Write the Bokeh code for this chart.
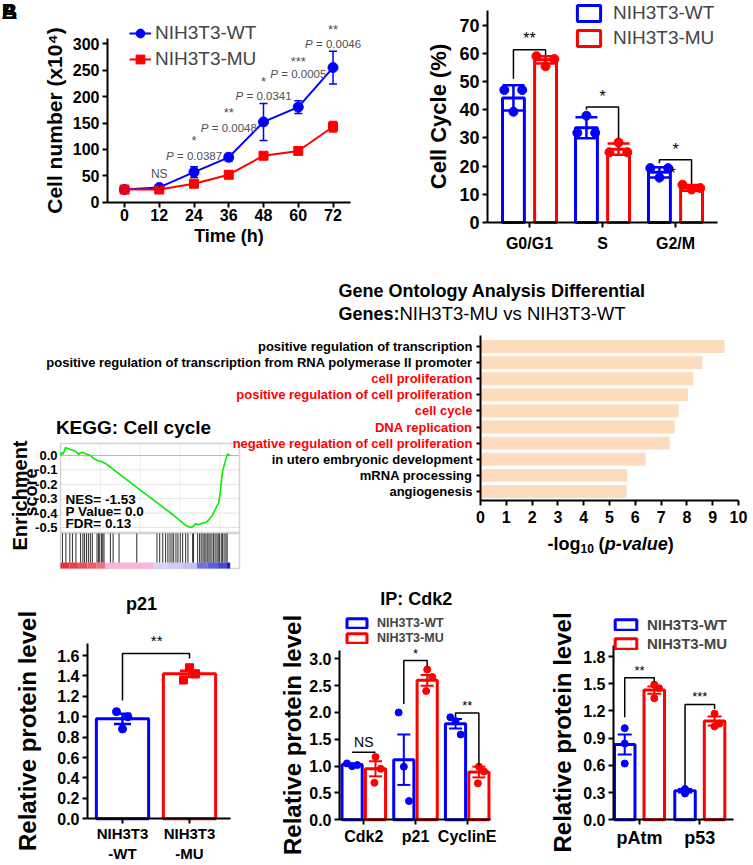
from math import pi
from bokeh.plotting import figure
from bokeh.models import (ColumnDataSource, Range1d, FixedTicker, Whisker, TeeHead,
                          Label, LabelSet, Legend, LegendItem, NumeralTickFormatter, LinearAxis)
from bokeh.layouts import row, column
from bokeh.embed import file_html
from bokeh.resources import INLINE
from bokeh.core.properties import value

FONT = "Liberation Sans"
BLUE = "#0000FF"
RED = "#FF0000"
GRAY_TXT = "#505050"

# ---------------- data ----------------
# Growth curve
time_h = [0, 12, 24, 36, 48, 60, 72]
wt_count = [24, 28, 57, 85, 152, 180, 255]
wt_sem = [3, 5, 10, 7, 35, 12, 31]
mu_count = [24, 24, 35, 52, 88, 97, 143]
mu_sem = [3, 2, 3, 3, 3, 3, 10]
count_ticks = [0, 50, 100, 150, 200, 250, 300]
sig_time = [24, 36, 48, 60, 72]
sig_p = ["0.0387", "0.0048", "0.0341", "0.0005", "0.0046"]
sig_star = ["*", "**", "*", "***", "**"]
sig_p_y = [87, 140, 201, 243, 300]
sig_star_y = [116, 169, 228, 266, 328]

# Cell cycle
phases = ["G0/G1", "S", "G2/M"]
cc_wt_mean = [44.2, 33.6, 17.8]
cc_wt_sd = [4.5, 3.7, 1.8]
cc_mu_mean = [57.7, 26.0, 12.3]
cc_mu_sd = [1.3, 2.0, 1.0]
cc_wt_pts = [[47.0, 47.0, 39.3], [31.8, 31.8, 37.9], [19.3, 19.3, 15.9]]
cc_mu_pts = [[59.0, 58.0, 55.4], [24.9, 24.9, 28.4], [13.4, 12.2, 11.7]]
cc_ticks = [0, 10, 20, 30, 40, 50, 60, 70]
cc_sig = ["**", "*", "*"]

# GO analysis
go_terms = ["positive regulation of transcription",
            "positive regulation of transcription from RNA polymerase II promoter",
            "cell proliferation",
            "positive regulation of cell proliferation",
            "cell cycle",
            "DNA replication",
            "negative regulation of cell proliferation",
            "in utero embryonic development",
            "mRNA processing",
            "angiogenesis"]
go_logp = [9.46, 8.6, 8.25, 8.04, 7.68, 7.52, 7.33, 6.4, 5.69, 5.66]
go_highlight = [False, False, True, True, True, True, True, False, False, False]
go_ticks = [0, 1, 2, 3, 4, 5, 6, 7, 8, 9, 10]

# GSEA (KEGG cell cycle) running enrichment score, rank in % of list
es_rank = [0, 0.56, 1.49, 2.79, 3.72, 4.65, 5.95, 7.43, 8.92, 10.22, 11.15, 12.64, 14.5,
           16.73, 18.59, 20.45, 22.3, 25.09, 27.88, 33.46, 40.89, 48.33, 55.76, 63.2,
           67.84, 70.63, 72.86, 74.35, 75.28, 77.14, 79.0, 80.86, 82.71, 84.57, 85.87,
           86.99, 88.29, 89.22, 89.96, 90.71, 91.64, 92.57, 93.31, 94.8]
es_score = [0.0, 0.02, 0.01, 0.055, 0.05, 0.045, 0.04, 0.035, 0.025, 0.008, 0.02, 0.02, 0.01,
            0.0, -0.02, -0.035, -0.04, -0.055, -0.08, -0.135, -0.205, -0.275, -0.345, -0.415,
            -0.465, -0.49, -0.5, -0.49, -0.475, -0.48, -0.47, -0.465, -0.45, -0.42, -0.39,
            -0.36, -0.33, -0.26, -0.17, -0.1, -0.06, -0.02, 0.01, 0.0]
es_ticks = [0, -0.1, -0.2, -0.3, -0.4, -0.5]
hit_rank = [1.1, 3.0, 5.2, 6.7, 8.6, 11.2, 12.5, 13.4, 14.5, 15.6, 16.7, 17.8, 20.4, 21.2,
            21.9, 22.9, 23.6, 24.3, 27.9, 29.4, 32.7, 42.6, 53.9, 55.4, 57.1, 58.7, 60.0,
            61.2, 62.3, 63.2, 64.5, 65.6, 66.9, 68.2, 69.9, 71.2, 73.8, 74.3, 76.6, 77.7,
            78.6, 79.6, 80.3, 81.2, 82.0, 82.9, 83.6, 84.6, 85.5, 86.4, 87.4, 88.1, 88.8,
            89.8, 90.5, 91.4, 92.4, 93.1]
cb_left = [0, 5, 10, 15, 20, 25.1, 52, 60, 68, 76.2, 82, 88, 93]
cb_right = [5, 10, 15, 20, 25.1, 52, 60, 68, 76.2, 82, 88, 93, 94.8]
cb_colors = ["#E8303C", "#EA3E4A", "#EC4C58", "#EE5C68", "#F07080", "#F6B6DC", "#D8D4F4",
             "#CFCBF2", "#C4C2F0", "#7070E6", "#5C5CE0", "#4848D8", "#1C1CC8"]
gsea_stats = ["NES= -1.53", "P Value= 0.0", "FDR= 0.13"]

# p21 western
p21_groups = ["NIH3T3\n-WT", "NIH3T3\n-MU"]
p21_mean = [0.98, 1.42]
p21_sem = [0.05, 0.03]
p21_pts = [[1.05, 1.00, 0.88], [1.36, 1.48, 1.42]]
p21_ticks = [0, 0.2, 0.4, 0.6, 0.8, 1.0, 1.2, 1.4, 1.6]

# IP: Cdk2
ip_targets = ["Cdk2", "p21", "CyclinE"]
ip_wt_mean = [1.03, 1.12, 1.79]
ip_wt_sem = [0.02, 0.47, 0.09]
ip_mu_mean = [0.95, 2.6, 0.89]
ip_mu_sem = [0.14, 0.10, 0.10]
ip_wt_pts = [[1.05, 1.00, 1.02], [2.0, 0.99, 0.35], [1.91, 1.84, 1.59]]
ip_mu_pts = [[1.17, 0.95, 0.69], [2.80, 2.66, 2.40], [0.99, 0.90, 0.68]]
ip_ticks = [0, 0.5, 1.0, 1.5, 2.0, 2.5, 3.0]
ip_sig = ["NS", "*", "**"]

# DNA damage
dna_targets = ["pAtm", "p53"]
dna_wt_mean = [0.83, 0.32]
dna_wt_sem = [0.11, 0.02]
dna_mu_mean = [1.43, 1.09]
dna_mu_sem = [0.04, 0.05]
dna_wt_pts = [[1.01, 0.84, 0.62], [0.34, 0.30, 0.29]]
dna_mu_pts = [[1.49, 1.45, 1.34], [1.17, 1.06, 1.03]]
dna_ticks = [0, 0.3, 0.6, 0.9, 1.2, 1.5, 1.8]
dna_sig = ["**", "***"]


# ---------------- helpers ----------------
def _lin(m):
    (p1, v1), (p2, v2) = m
    k = (v2 - v1) / (p2 - p1)
    return v1 - p1 * k, k


class Panel:
    """A figure whose frame fills its canvas; axes drawn at fixed data locations."""

    def __init__(self, ox, oy, w, h, xmap, ymap):
        self.ox, self.oy, self.w, self.h = ox, oy, w, h
        self.maps = {"default": (_lin(xmap), _lin(ymap))}
        self.p = figure(width=w, height=h,
                        x_range=Range1d(self.dx(ox), self.dx(ox + w)),
                        y_range=Range1d(self.dy(oy + h), self.dy(oy)),
                        min_border_left=0, min_border_right=0, min_border_top=0,
                        min_border_bottom=0, x_axis_location=None, y_axis_location=None,
                        output_backend="svg", toolbar_location=None)
        self.p.outline_line_color = None
        self.p.grid.visible = False

    def add_map(self, name, xmap, ymap):
        self.maps[name] = (_lin(xmap), _lin(ymap))
        self.p.extra_x_ranges[name] = Range1d(self.dx(self.ox, name), self.dx(self.ox + self.w, name))
        self.p.extra_y_ranges[name] = Range1d(self.dy(self.oy + self.h, name), self.dy(self.oy, name))

    def dx(self, px, m="default"):
        (a, k), _ = self.maps[m]
        return a + k * px

    def dy(self, py, m="default"):
        _, (a, k) = self.maps[m]
        return a + k * py

    def axis(self, side, loc, bounds, ticks, size, overrides=None, fmt=None, tick_out=5,
             standoff=3, label=None, label_size=20, label_standoff=5, line=True, m="default"):
        ax = LinearAxis(fixed_location=loc, bounds=bounds, ticker=FixedTicker(ticks=ticks),
                        x_range_name=m, y_range_name=m)
        ax.axis_line_color = "black" if line else None
        ax.axis_line_width = 2
        ax.major_tick_line_color = "black" if tick_out > 0 else None
        ax.major_tick_line_width = 2
        ax.major_tick_out = tick_out
        ax.major_tick_in = 0
        ax.minor_tick_line_color = None
        ax.major_label_text_font = FONT
        ax.major_label_text_font_style = "bold"
        ax.major_label_text_font_size = f"{size}px"
        ax.major_label_text_color = "black"
        ax.major_label_standoff = standoff
        if overrides is not None:
            ax.major_label_overrides = overrides
        if fmt is not None:
            ax.formatter = NumeralTickFormatter(format=fmt)
        if label is not None:
            ax.axis_label = label
            ax.axis_label_text_font = FONT
            ax.axis_label_text_font_style = "bold"
            ax.axis_label_text_font_size = f"{label_size}px"
            ax.axis_label_text_color = "black"
            ax.axis_label_standoff = label_standoff
        self.p.add_layout(ax, side)
        return ax

    def loc(self, left_px, bottom_px):
        return (left_px - self.ox, self.oy + self.h - bottom_px)

    def label(self, rx, ry, text, size, style="bold", color="black", align="center",
              angle=0, m="default"):
        self.dlabel(self.dx(rx, m), self.dy(ry, m), text, size, style, color, align, angle, m)

    def dlabel(self, x, y, text, size, style="bold", color="black", align="center",
               angle=0, m="default"):
        self.p.add_layout(Label(x=x, y=y, text=text, text_font=FONT,
                                text_font_size=f"{size}px", text_font_style=style,
                                text_color=color, text_align=align, text_baseline="middle",
                                angle=angle, x_range_name=m, y_range_name=m))


def whisker(p, xs, means, errs, color, cap, lw=2):
    src = ColumnDataSource(dict(x=xs, lo=[m - e for m, e in zip(means, errs)],
                                hi=[m + e for m, e in zip(means, errs)]))
    p.add_layout(Whisker(source=src, base="x", upper="hi", lower="lo", dimension="height",
                         line_color=color, line_width=lw, level="annotation",
                         upper_head=TeeHead(size=cap, line_color=color, line_width=lw),
                         lower_head=TeeHead(size=cap, line_color=color, line_width=lw)))


def points(p, centers, pts, jitter, color, size, marker="circle"):
    xs, ys = [], []
    for c, trip in zip(centers, pts):
        for j, v in zip(jitter, trip):
            xs.append(c + j)
            ys.append(v)
    p.scatter(xs, ys, marker=marker, size=size, color=color)


def brackets(p, x0s, x1s, ys, left_ends, right_ends, lw=1.5):
    xs = [[a, a, b, b] for a, b in zip(x0s, x1s)]
    yy = [[l, y, y, r] for y, l, r in zip(ys, left_ends, right_ends)]
    p.multi_line(xs, yy, line_color="black", line_width=lw)


def make_legend(p, rs_wt, rs_mu, loc, gw, gh, lh, spacing, standoff, size, style):
    p.add_layout(Legend(items=[LegendItem(label="NIH3T3-WT", renderers=rs_wt),
                               LegendItem(label="NIH3T3-MU", renderers=rs_mu)],
                        location=loc, orientation="vertical", padding=0, spacing=int(spacing),
                        glyph_width=int(gw), glyph_height=int(gh), label_height=int(lh),
                        label_standoff=int(standoff), label_text_font=FONT,
                        label_text_font_size=f"{size}px", label_text_font_style=style,
                        border_line_color=None, background_fill_alpha=0, margin=0))


# ================= growth curve =================
A = Panel(0, 0, 400, 265, ((124, 0), (332.5, 72)), ((201.7, 0), (43.3, 300)))
pa = A.p
A.axis("left", A.dx(107), (0, A.dy(38)), count_ticks, 16,
       label="Cell number (x10⁴)", label_size=21, label_standoff=4)
A.axis("below", 0, (A.dx(107), A.dx(350)), time_h, 16, standoff=2,
       label="Time (h)", label_size=18, label_standoff=1)
whisker(pa, time_h, wt_count, wt_sem, BLUE, 8, 1.5)
whisker(pa, time_h, mu_count, mu_sem, RED, 8, 1.5)
lw_ = pa.line(time_h, wt_count, line_color=BLUE, line_width=2)
sw_ = pa.scatter(time_h, wt_count, marker="circle", size=10, color=BLUE)
lm_ = pa.line(time_h, mu_count, line_color=RED, line_width=2)
sm_ = pa.scatter(time_h, mu_count, marker="square", size=9, color=RED)
make_legend(pa, [lw_, sw_], [lm_, sm_], A.loc(129, 70), 22, 22, 22, 4, 4, 19, "normal")
sig_src = ColumnDataSource(dict(x=sig_time, py=sig_p_y, sy=sig_star_y,
                                ptxt=["P" for _ in sig_p], rest=["= " + s for s in sig_p],
                                star=sig_star))
pa.add_layout(LabelSet(source=sig_src, x="x", y="py", text="ptxt", x_offset=-28,
                       text_font=value(FONT), text_font_size="11.5px", text_font_style="italic",
                       text_color=GRAY_TXT, text_align="left", text_baseline="middle"))
pa.add_layout(LabelSet(source=sig_src, x="x", y="py", text="rest", x_offset=-17,
                       text_font=value(FONT), text_font_size="11.5px",
                       text_color=GRAY_TXT, text_align="left", text_baseline="middle"))
pa.add_layout(LabelSet(source=sig_src, x="x", y="sy", text="star",
                       text_font=value(FONT), text_font_size="13px",
                       text_color=GRAY_TXT, text_align="center", text_baseline="middle"))
A.dlabel(12, 54, "NS", 12, style="normal", color=GRAY_TXT)
A.label(1, 11, "A", 22, align="left")
A.label(1, 11, "B", 22, align="left")

# ================= cell cycle =================
Bp = Panel(400, 0, 350, 265, ((529, 1), (675, 3)), ((222, 0), (24.7, 70)))
pb = Bp.p
cc_pos = [1, 2, 3]
Bp.axis("left", Bp.dx(487), (0, Bp.dy(10)), cc_ticks, 18,
        label="Cell Cycle (%)", label_size=22, label_standoff=5)
Bp.axis("below", 0, (Bp.dx(487), Bp.dx(717)), cc_pos, 16, standoff=7,
        overrides={c: n for c, n in zip(cc_pos, phases)})
off_b = 0.22
wt_x = [c - off_b for c in cc_pos]
mu_x = [c + off_b for c in cc_pos]
rb_wt = pb.vbar(x=wt_x, top=cc_wt_mean, width=0.30, fill_color="white", line_color=BLUE, line_width=3)
rb_mu = pb.vbar(x=mu_x, top=cc_mu_mean, width=0.30, fill_color="white", line_color=RED, line_width=3)
points(pb, wt_x, cc_wt_pts, [-0.125, 0.12, 0.0], BLUE, 9)
points(pb, mu_x, cc_mu_pts, [-0.125, 0.12, 0.0], RED, 9)
whisker(pb, wt_x, cc_wt_mean, cc_wt_sd, BLUE, 22, 2.5)
whisker(pb, mu_x, cc_mu_mean, cc_mu_sd, RED, 22, 2.5)
brackets(pb, wt_x, mu_x, [61.3, 41.0, 22.3], [51.0, 40.0, 21.0], [58.5, 29.8, 13.0])
for c, s, y in zip(cc_pos, cc_sig, [65.3, 44.8, 26.0]):
    Bp.dlabel(c, y, s, 16, style="normal")
Bp.dlabel(2.96, 17.4, "*", 16, style="normal")
make_legend(pb, [rb_wt], [rb_mu], Bp.loc(574, 49), 29, 20, 20, 3, 10, 19, "normal")

# ================= row 2: GO (default scales) + KEGG GSEA (extra scales) =================
G = Panel(0, 265, 750, 315, ((480, 0), (738, 10)), ((346, 10), (491, 1)))
pg = G.p
G.add_map("kegg", ((60, 0), (239, 100)), ((455, 0), (527, -0.5)))
KG = dict(x_range_name="kegg", y_range_name="kegg")

# --- KEGG GSEA plot
G.axis("left", 0, (G.dy(532, "kegg"), G.dy(443, "kegg")), es_ticks, 13, fmt="0.0",
       tick_out=0, standoff=3, line=False, m="kegg")
grid_y = es_ticks[1:]
pg.segment(x0=[0] * len(grid_y), x1=[100] * len(grid_y), y0=grid_y, y1=grid_y,
           line_color="#E4E4E4", line_width=1, **KG)
vgrid = [22.3, 44.6, 66.9, 89.2]
pg.segment(x0=vgrid, x1=vgrid, y0=[-0.535] * 4, y1=[0.0833] * 4, line_color="#EEEEEE",
           line_width=1, **KG)
pg.segment(x0=[0], x1=[100], y0=[0], y1=[0], line_color="#B8B8B8", line_width=1.2, **KG)
pg.quad(left=[0, 0], right=[100, 100], bottom=[-0.535, -0.785], top=[0.0833, -0.542],
        fill_color=None, line_color="#D4D4D4", line_width=1.5, **KG)
pg.quad(left=cb_left, right=cb_right, bottom=[-0.785] * len(cb_left),
        top=[-0.743] * len(cb_left), fill_color=cb_colors, line_color=None, **KG)
pg.segment(x0=hit_rank, x1=hit_rank, y0=[-0.542] * len(hit_rank), y1=[-0.743] * len(hit_rank),
           line_color="black", line_alpha=0.75, line_width=1.1, **KG)
pg.line(es_rank, es_score, line_color="#00EE00", line_width=1.6, **KG)
for txt, ry in zip(gsea_stats, [498.7, 510.7, 523.3]):
    G.label(65, ry, txt, 13.5, align="left", m="kegg")
G.label(133, 427, "KEGG: Cell cycle", 19, m="kegg")
G.label(19, 495, "Enrichment", 20, angle=pi / 2, m="kegg")
G.label(30, 492, "score", 18, angle=pi / 2, m="kegg")

# --- GO bar chart
go_y = [len(go_terms) - i for i in range(len(go_terms))]
G.axis("left", 0, (G.dy(500), G.dy(335)), go_y, 12, tick_out=4,
       overrides={y: "" for y in go_y})
G.axis("below", G.dy(500), (0, 10), go_ticks, 16, standoff=5)
pg.hbar(y=go_y, left=0, right=go_logp, height=0.8, fill_color="#FDDCBD", line_color=None)
go_src = ColumnDataSource(dict(y=go_y, x=[0] * len(go_y), text=go_terms,
                               color=[RED if h else "black" for h in go_highlight]))
pg.add_layout(LabelSet(source=go_src, x="x", y="y", text="text", text_color="color",
                       x_offset=-8, text_align="right", text_baseline="middle",
                       text_font=value(FONT), text_font_size="13px",
                       text_font_style="bold"))
G.label(338, 290, "Gene Ontology Analysis Differential", 18, align="left")
G.label(338, 313, "Genes:", 18, align="left")
G.label(399, 313, "NIH3T3-MU vs NIH3T3-WT", 18.5, style="normal", align="left")
G.label(547, 543, "-log", 18, align="left")
G.label(580, 548, "10", 12, align="left")
G.label(598, 543, "(", 18, align="left")
G.label(604.3, 543, "p-value", 18, style="bold italic", align="left")
G.label(667.3, 543, ")", 18, align="left")

# ================= p21 =================
C = Panel(0, 580, 250, 282, ((122, 1), (189, 2)), ((818.3, 0), (655, 1.6)))
pc = C.p
p21_pos = [1, 2]
C.axis("left", C.dx(87), (0, C.dy(643)), p21_ticks, 16, fmt="0.0",
       label="Relative protein level", label_size=24, label_standoff=13)
C.axis("below", 0, (C.dx(87), C.dx(230)), p21_pos, 15, standoff=1,
       overrides={c: n for c, n in zip(p21_pos, p21_groups)})
pc.vbar(x=p21_pos, top=p21_mean, width=0.78, fill_color="white",
        line_color=[BLUE, RED], line_width=3)
points(pc, p21_pos[:1], p21_pts[:1], [-0.09, 0.08, 0.0], BLUE, 8)
points(pc, p21_pos[1:], p21_pts[1:], [-0.09, 0.0, 0.09], RED, 8, marker="square")
whisker(pc, p21_pos[:1], p21_mean[:1], p21_sem[:1], BLUE, 17, 2.5)
whisker(pc, p21_pos[1:], p21_mean[1:], p21_sem[1:], RED, 19, 2.5)
brackets(pc, [1], [2], [1.62], [1.16], [1.57])
C.dlabel(1.51, 1.745, "**", 15, style="normal")
C.label(141, 603, "p21", 18)

# ================= IP: Cdk2 =================
D = Panel(250, 580, 250, 282, ((363.3, 1), (466.7, 3)), ((819.3, 0), (658.3, 3.0)))
pd_ = D.p
ip_pos = [1, 2, 3]
D.axis("left", D.dx(339), (0, D.dy(650)), ip_ticks, 16, fmt="0.0",
       label="Relative protein level", label_size=24, label_standoff=0)
D.axis("below", 0, (D.dx(339), D.dx(490)), ip_pos, 16, standoff=3,
       overrides={c: n for c, n in zip(ip_pos, ip_targets)})
off_d = 0.226
ipw_x = [c - off_d for c in ip_pos]
ipm_x = [c + off_d for c in ip_pos]
rd_wt = pd_.vbar(x=ipw_x, top=ip_wt_mean, width=0.39, fill_color="white", line_color=BLUE, line_width=3)
rd_mu = pd_.vbar(x=ipm_x, top=ip_mu_mean, width=0.39, fill_color="white", line_color=RED, line_width=3)
points(pd_, ipw_x, ip_wt_pts, [-0.1, 0.0, 0.1], BLUE, 7)
points(pd_, ipm_x, ip_mu_pts, [0.0, 0.1, -0.02], RED, 7)
whisker(pd_, ipw_x, ip_wt_mean, ip_wt_sem, BLUE, 13, 2)
whisker(pd_, ipm_x, ip_mu_mean, ip_mu_sem, RED, 13, 2)
pd_.segment(x0=ipw_x[:1], x1=ipm_x[:1], y0=[1.26], y1=[1.26], line_color="black", line_width=1.5)
brackets(pd_, ipw_x[1:], ipm_x[1:], [2.97, 1.99], [2.16, 1.91], [2.86, 1.01])
for c, s, y in zip(ip_pos, ip_sig, [1.45, 3.1, 2.13]):
    D.dlabel(c, y, s, 14 if s == "NS" else 13, style="normal")
D.label(415.7, 598, "IP: Cdk2", 18)
make_legend(pd_, [rd_wt], [rd_mu], D.loc(344, 645), 25, 12, 12, 1, 8, 12.5, "bold")

# ================= pAtm / p53 =================
E = Panel(500, 580, 250, 282, ((639, 1), (699.3, 2)), ((819.3, 0), (656, 1.8)))
pe = E.p
dna_pos = [1, 2]
E.axis("left", E.dx(613), (0, E.dy(645)), dna_ticks, 16, fmt="0.0",
       label="Relative protein level", label_size=24, label_standoff=4)
E.axis("below", 0, (E.dx(613), E.dx(733)), dna_pos, 18, standoff=3,
       overrides={c: n for c, n in zip(dna_pos, dna_targets)})
off_e = 0.245
dw_x = [c - off_e for c in dna_pos]
dm_x = [c + off_e for c in dna_pos]
re_wt = pe.vbar(x=dw_x, top=dna_wt_mean, width=0.34, fill_color="white", line_color=BLUE, line_width=3)
re_mu = pe.vbar(x=dm_x, top=dna_mu_mean, width=0.34, fill_color="white", line_color=RED, line_width=3)
points(pe, dw_x, dna_wt_pts, [0.0, 0.0, 0.0], BLUE, 7)
points(pe, dm_x, dna_mu_pts, [0.0, 0.08, 0.0], RED, 7)
whisker(pe, dw_x, dna_wt_mean, dna_wt_sem, BLUE, 14, 2)
whisker(pe, dm_x, dna_mu_mean, dna_mu_sem, RED, 14, 2)
brackets(pe, dw_x, dm_x, [1.565, 1.27], [1.13, 0.38], [1.52, 1.22])
for c, s, y in zip(dna_pos, dna_sig, [1.65, 1.36]):
    E.dlabel(c, y, s, 13, style="normal")
make_legend(pe, [re_wt], [re_mu], E.loc(612, 652), 27, 13, 16, 2, 8, 15, "bold")

layout = column(row(A.p, Bp.p), G.p, row(C.p, D.p, E.p))
open("out.html", "w").write(file_html(layout, INLINE))
